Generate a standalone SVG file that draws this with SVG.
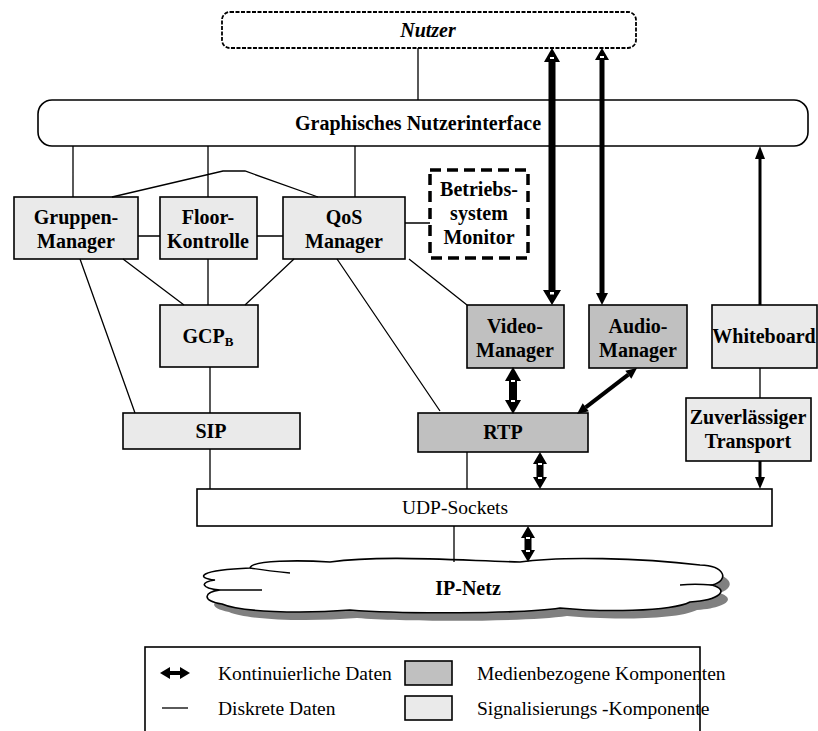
<svg xmlns="http://www.w3.org/2000/svg" width="818" height="731" viewBox="0 0 818 731">
<style>
.box{stroke:#000;stroke-width:1.6}
.lt{fill:#eaeaea}
.dk{fill:#c0c0c0}
.b{font-family:"Liberation Serif","Times New Roman",serif;font-weight:bold;font-size:20px;text-anchor:middle;fill:#000}
.r{font-family:"Liberation Serif","Times New Roman",serif;font-size:19.5px;fill:#000}
.ln{stroke:#000;stroke-width:1.3;fill:none}
.ah{fill:#000}
.wd{fill:#fff}
</style>
<rect width="818" height="731" fill="#fff"/>
<g id="nutzer">
<rect x="222" y="12" width="414" height="36" rx="8" fill="#fff" stroke="#000" stroke-width="1.8" stroke-dasharray="4 1.5"/>
<text class="b" x="428" y="37" font-style="italic">Nutzer</text>
</g>
<g id="gui">
<rect x="38" y="100" width="770" height="46" rx="14" fill="#fff" stroke="#000" stroke-width="1.6"/>
<text class="b" x="418" y="130">Graphisches Nutzerinterface</text>
</g>
<g id="gruppen">
<rect class="box lt" x="14" y="197" width="124" height="62"/>
<text class="b" x="76" y="224">Gruppen-</text>
<text class="b" x="76" y="248">Manager</text>
</g>
<g id="floor">
<rect class="box lt" x="160" y="197" width="97" height="62"/>
<text class="b" x="208" y="224">Floor-</text>
<text class="b" x="208" y="248">Kontrolle</text>
</g>
<g id="qos">
<rect class="box lt" x="283" y="197" width="122" height="62"/>
<text class="b" x="344" y="224">QoS</text>
<text class="b" x="344" y="248">Manager</text>
</g>
<g id="monitor">
<rect x="430" y="170" width="98" height="88" fill="#fff" stroke="#000" stroke-width="3.5" stroke-dasharray="11 6"/>
<text class="b" x="479" y="196">Betriebs-</text>
<text class="b" x="479" y="220">system</text>
<text class="b" x="479" y="244">Monitor</text>
</g>
<g id="gcp">
<rect class="box lt" x="160" y="305" width="98" height="62"/>
<text class="b" x="208" y="343">GCP<tspan font-size="13" dy="3">B</tspan></text>
</g>
<g id="video">
<rect class="box dk" x="467" y="305" width="97" height="63"/>
<text class="b" x="515" y="333">Video-</text>
<text class="b" x="515" y="357">Manager</text>
</g>
<g id="audio">
<rect class="box dk" x="589" y="305" width="98" height="63"/>
<text class="b" x="638" y="333">Audio-</text>
<text class="b" x="638" y="357">Manager</text>
</g>
<g id="whiteboard">
<rect class="box lt" x="712" y="305" width="105" height="63"/>
<text class="b" x="764" y="343">Whiteboard</text>
</g>
<g id="sip">
<rect class="box lt" x="123" y="413" width="177" height="36"/>
<text class="b" x="211" y="438">SIP</text>
</g>
<g id="rtp">
<rect class="box dk" x="418" y="413" width="170" height="39"/>
<text class="b" x="503" y="439">RTP</text>
</g>
<g id="transport">
<rect class="box lt" x="686" y="398" width="125" height="63"/>
<text class="b" x="748" y="424">Zuverlässiger</text>
<text class="b" x="748" y="448">Transport</text>
</g>
<g id="udp">
<rect x="197" y="489" width="575" height="37" fill="#fff" stroke="#000" stroke-width="1.6"/>
<text class="r" x="455" y="514" text-anchor="middle">UDP-Sockets</text>
</g>
<g id="ipnetz">
<path transform="translate(7,8)" fill="#808080" d="M215,580 C195,578 198,570 250,568 C252,560 300,560 330,562 C380,555 450,560 520,562 C560,556 640,558 700,565 C725,566 730,580 712,585 C730,590 720,600 690,602 C670,612 600,612 560,608 C520,614 400,614 350,610 C300,614 240,612 222,604 C200,600 205,592 220,590 C200,588 200,582 215,580 Z"/>
<path fill="#fff" stroke="#000" stroke-width="1.6" d="M215,580 C195,578 198,570 250,568 C252,560 300,560 330,562 C380,555 450,560 520,562 C560,556 640,558 700,565 C725,566 730,580 712,585 C730,590 720,600 690,602 C670,612 600,612 560,608 C520,614 400,614 350,610 C300,614 240,612 222,604 C200,600 205,592 220,590 C200,588 200,582 215,580 Z"/>
<path class="ln" d="M250,568 C262,570 280,572 290,573 M712,585 C700,584 690,584 680,585 M220,590 C235,590 250,590 262,590"/>
<text class="b" x="468" y="595">IP-Netz</text>
</g>
<g id="connectors">
<path class="ln" d="M418,48 V100 M73,146 V197 M208,146 V197 M355,146 V197 M112,197 L223,171 L245,171 L318,197 M138,236 H160 M257,236 H283 M405,223 H430 M80,259 L135,413 M123,259 L184,305 M208,259 V305 M294,259 L245,305 M337,259 L440,411 M409,259 L467,305 M210,367 V413 M210,449 V489 M467,452 V489 M760,368 V398 M454,526 V562"/>
<!-- video thick arrow -->
<rect x="548.5" y="60" width="7" height="232" class="ah"/>
<polygon class="ah" points="552,48 544,62 560,62"/>
<polygon class="ah" points="552,305 543,290 561,290"/>
<rect class="wd" x="550" y="57" width="4" height="2"/>
<rect class="wd" x="550" y="292" width="4" height="2.5"/>
<!-- audio thick arrow -->
<rect x="599.5" y="58" width="5" height="237" class="ah"/>
<polygon class="ah" points="602,48 595,60 609,60"/>
<polygon class="ah" points="602,305 596,293 608,293"/>
<rect class="wd" x="600" y="56" width="4" height="2"/>
<!-- video-rtp -->
<rect x="509" y="380" width="8" height="21" class="ah"/>
<polygon class="ah" points="513,367 505,381 521,381"/>
<polygon class="ah" points="513,414 505,400 521,400"/>
<rect class="wd" x="511" y="380" width="4" height="2"/>
<rect class="wd" x="511" y="400" width="4" height="2"/>
<!-- audio-rtp diagonal -->
<line x1="628.3" y1="374.7" x2="585.7" y2="407.3" stroke="#000" stroke-width="4"/>
<polygon class="ah" points="577,414 588.8,411.3 582.7,403.3"/>
<polygon class="ah" points="637,368 631.3,378.7 625.3,370.7"/>
<!-- rtp-udp -->
<rect x="536.5" y="463" width="7" height="15" class="ah"/>
<polygon class="ah" points="540,452 533,464 547,464"/>
<polygon class="ah" points="540,489 533,477 547,477"/>
<rect class="wd" x="538" y="463" width="4" height="2"/>
<rect class="wd" x="538" y="477" width="4" height="2"/>
<!-- udp-ip -->
<rect x="524.5" y="537" width="7" height="14" class="ah"/>
<polygon class="ah" points="528,526 521,538 535,538"/>
<polygon class="ah" points="528,562 521,550 535,550"/>
<rect class="wd" x="526" y="537" width="4" height="2"/>
<rect class="wd" x="526" y="550" width="4" height="2"/>
<!-- whiteboard -> gui -->
<line x1="760" y1="305" x2="760" y2="158" stroke="#000" stroke-width="3"/>
<polygon class="ah" points="760,146 755,159 765,159"/>
<!-- transport -> udp -->
<line x1="760" y1="461" x2="760" y2="478" stroke="#000" stroke-width="3"/>
<polygon class="ah" points="760,489 755,477 765,477"/>
</g>
<g id="legend">
<rect x="145" y="647" width="555" height="95" fill="none" stroke="#000" stroke-width="1.6"/>
<rect x="168" y="671" width="14" height="4" class="ah"/>
<polygon class="ah" points="160,673 170,667 170,679"/>
<polygon class="ah" points="190,673 180,667 180,679"/>
<text class="r" x="218" y="680">Kontinuierliche Daten</text>
<line x1="162" y1="708" x2="188" y2="708" stroke="#000" stroke-width="1.3"/>
<text class="r" x="218" y="715">Diskrete Daten</text>
<rect class="box dk" x="405" y="661" width="47" height="24"/>
<text class="r" x="477" y="680">Medienbezogene Komponenten</text>
<rect class="box lt" x="405" y="696" width="47" height="24"/>
<text class="r" x="477" y="715">Signalisierungs -Komponente</text>
</g>
</svg>
